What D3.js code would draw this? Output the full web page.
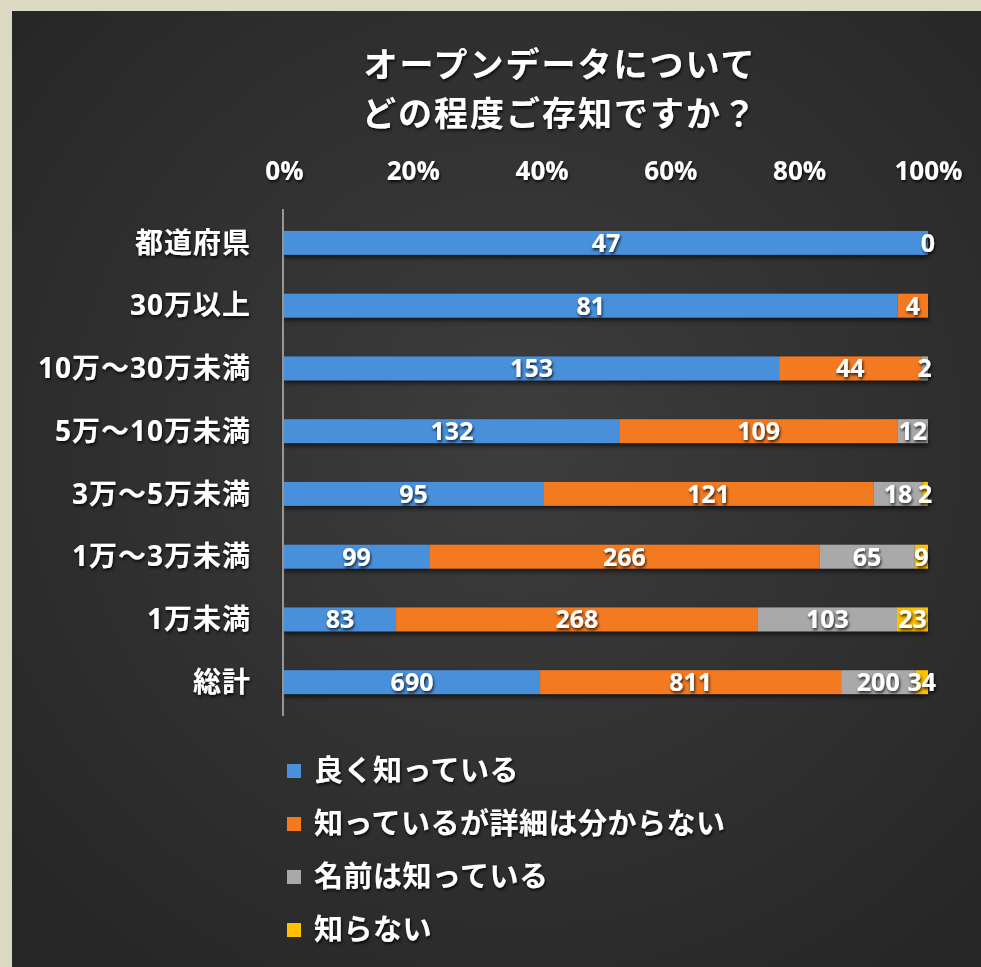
<!DOCTYPE html>
<html>
<head>
<meta charset="utf-8">
<script src="https://cdn.jsdelivr.net/npm/d3@7"></script>
<style>
    body { margin: 0; background: #dcd9c3; }
    svg { display: block; }
</style>
</head>
<body>
<svg id="drawing_region"></svg>
<script>
const categories = ['都道府県', '30万以上', '10万～30万未満', '5万～10万未満', '3万～5万未満', '1万～3万未満', '1万未満', '総計'];
const seriesNames = ['良く知っている', '知っているが詳細は分からない', '名前は知っている', '知らない'];
const seriesColors = ['#4a90db', '#f47a20', '#a9a9a9', '#ffc000'];

// null = no label shown in the original
const veryWell = [47, 81, 153, 132, 95, 99, 83, 690];
const knowNoDetail = [0, 4, 44, 109, 121, 266, 268, 811];
const nameOnly = [null, null, 2, 12, 18, 65, 103, 200];
const dontKnow = [null, null, null, null, 2, 9, 23, 34];

const tickValues = [0, 0.2, 0.4, 0.6, 0.8, 1.0];
const titleLines = ['オープンデータについて', 'どの程度ご存知ですか？'];

const values = [veryWell, knowNoDetail, nameOnly, dontKnow];
const data = categories.map((c, i) => {
    const row = { category: c };
    seriesNames.forEach((s, j) => { row[s] = values[j][i]; });
    return row;
});

const config = {
    parent: '#drawing_region',
    width: 981,
    height: 967,
    margin: { top: 212, right: 53, bottom: 253, left: 284 },
};

class StackedBar {
    constructor(config, data) {
        this.config = config;
        this.data = data;
        this.font = '"Open Sans", "Noto Sans CJK JP", sans-serif';
        this.init();
    }

    init() {
        let self = this;

        self.svg = d3.select(self.config.parent)
            .attr('width', self.config.width)
            .attr('height', self.config.height)
            .style('font-family', self.font);

        const defs = self.svg.append('defs');
        const grad = defs.append('radialGradient')
            .attr('id', 'bg')
            .attr('cx', '52%').attr('cy', '45%').attr('r', '70%');
        grad.append('stop').attr('offset', '0%').attr('stop-color', '#3d3d3d');
        grad.append('stop').attr('offset', '100%').attr('stop-color', '#262626');

        const barShadow = defs.append('filter').attr('id', 'barShadow')
            .attr('x', '-5%').attr('y', '-30%').attr('width', '110%').attr('height', '180%');
        barShadow.append('feDropShadow')
            .attr('dx', 0).attr('dy', 3).attr('stdDeviation', 2)
            .attr('flood-color', '#000').attr('flood-opacity', 0.6);

        const textShadow = defs.append('filter').attr('id', 'textShadow')
            .attr('x', '-10%').attr('y', '-20%').attr('width', '130%').attr('height', '150%');
        textShadow.append('feDropShadow')
            .attr('dx', 1).attr('dy', 2).attr('stdDeviation', 1.5)
            .attr('flood-color', '#000').attr('flood-opacity', 0.8);

        // beige frame + dark board
        self.svg.append('rect')
            .attr('x', 0).attr('y', 0)
            .attr('width', self.config.width).attr('height', self.config.height)
            .attr('fill', '#dcd9c3');
        self.svg.append('rect')
            .attr('x', 12).attr('y', 11)
            .attr('width', self.config.width - 12).attr('height', self.config.height - 11)
            .attr('fill', 'url(#bg)');

        self.inner_width = self.config.width - self.config.margin.left - self.config.margin.right;

        self.xscale = d3.scaleLinear()
            .domain([0, 1])
            .range([self.config.margin.left, self.config.margin.left + self.inner_width]);

        self.yscale = d3.scaleBand()
            .domain(categories)
            .range([self.config.margin.top - 0.5, self.config.height - self.config.margin.bottom - 0.5])
            .paddingInner(0.62)
            .paddingOuter(0.31);

        self.color = d3.scaleOrdinal().domain(seriesNames).range(seriesColors);

        self.stack = d3.stack()
            .keys(seriesNames)
            .value((d, key) => d[key] || 0)
            .offset(d3.stackOffsetExpand);
    }

    render() {
        let self = this;
        const stacked = self.stack(self.data);

        // title
        self.svg.append('g')
            .attr('filter', 'url(#textShadow)')
            .selectAll('text')
            .data(titleLines)
            .join('text')
            .attr('x', 560)
            .attr('y', (d, i) => 77 + i * 49)
            .attr('text-anchor', 'middle')
            .attr('fill', '#fff')
            .attr('font-size', '34px')
            .attr('font-weight', 'bold')
            .attr('letter-spacing', '2px')
            .attr('font-family', '"Noto Sans CJK JP", sans-serif')
            .text(d => d);

        // top percent axis
        const xaxis = d3.axisTop(self.xscale)
            .tickValues(tickValues)
            .tickFormat(d3.format('.0%'))
            .tickSize(0)
            .tickPadding(0);
        const xg = self.svg.append('g')
            .attr('transform', 'translate(0, 180)')
            .attr('filter', 'url(#textShadow)')
            .call(xaxis);
        xg.select('.domain').remove();
        xg.selectAll('text')
            .attr('fill', '#fff')
            .attr('font-size', '26px')
            .attr('font-weight', 'bold')
            .attr('font-family', '"Open Sans", sans-serif');

        // category axis
        const yaxis = d3.axisLeft(self.yscale).tickSize(0).tickPadding(33);
        const yg = self.svg.append('g')
            .attr('transform', `translate(${self.config.margin.left}, 0)`)
            .attr('filter', 'url(#textShadow)')
            .call(yaxis);
        yg.select('.domain').remove();
        yg.selectAll('text')
            .attr('fill', '#fff')
            .attr('font-size', '28px')
            .attr('font-weight', 'bold')
            .attr('letter-spacing', '1px')
            .attr('dy', '0.35em')
            .style('font-family', self.font);

        // bars
        const layers = self.svg.append('g')
            .attr('filter', 'url(#barShadow)')
            .selectAll('g')
            .data(stacked)
            .join('g')
            .attr('fill', d => self.color(d.key));

        layers.selectAll('rect')
            .data(d => d)
            .join('rect')
            .attr('x', d => self.xscale(d[0]))
            .attr('y', d => self.yscale(d.data.category))
            .attr('width', d => self.xscale(d[1]) - self.xscale(d[0]))
            .attr('height', self.yscale.bandwidth());

        // vertical axis line
        self.svg.append('line')
            .attr('x1', self.config.margin.left - 1).attr('x2', self.config.margin.left - 1)
            .attr('y1', 209).attr('y2', 716)
            .attr('stroke', '#b8b8b8')
            .attr('stroke-width', 1.5);

        // data labels
        const labels = [];
        stacked.forEach(layer => {
            layer.forEach(d => {
                const v = d.data[layer.key];
                if (v !== null && v !== undefined) {
                    labels.push({ v: v, cat: d.data.category, mid: (d[0] + d[1]) / 2 });
                }
            });
        });
        self.svg.append('g')
            .attr('filter', 'url(#textShadow)')
            .selectAll('text')
            .data(labels)
            .join('text')
            .attr('x', d => self.xscale(d.mid))
            .attr('y', d => self.yscale(d.cat) + self.yscale.bandwidth() / 2)
            .attr('dy', '0.36em')
            .attr('text-anchor', 'middle')
            .attr('fill', '#fff')
            .attr('font-size', '25px')
            .attr('font-weight', 'bold')
            .attr('font-family', '"Open Sans", sans-serif')
            .text(d => d.v);

        // legend
        const legend = self.svg.append('g')
            .selectAll('g')
            .data(seriesNames)
            .join('g')
            .attr('transform', (d, i) => `translate(287, ${771 + i * 53})`);
        legend.append('rect')
            .attr('x', 0).attr('y', -7)
            .attr('width', 14).attr('height', 14)
            .attr('fill', d => self.color(d));
        legend.append('text')
            .attr('x', 27)
            .attr('dy', '0.36em')
            .attr('fill', '#fff')
            .attr('font-size', '29px')
            .attr('font-weight', 'bold')
            .attr('letter-spacing', '0.5px')
            .attr('font-family', '"Noto Sans CJK JP", sans-serif')
            .attr('filter', 'url(#textShadow)')
            .text(d => d);
    }
}

const chart = new StackedBar(config, data);
chart.render();
</script>
</body>
</html>
